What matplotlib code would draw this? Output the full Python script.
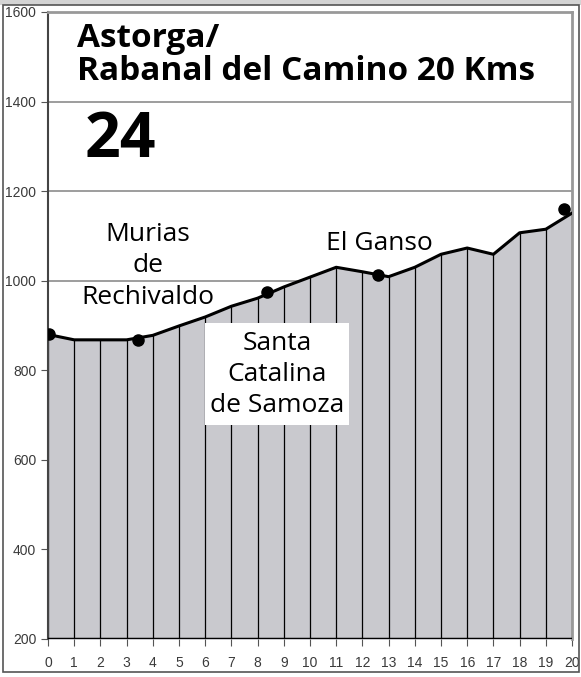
import numpy as np
import matplotlib.pyplot as plt
from matplotlib.patches import Rectangle

# perfil de altitud (km, metros)
km = [0, 1, 2, 3, 4, 5, 6, 7, 8, 9, 10, 11, 12, 13, 14, 15, 16, 17, 18, 19, 20]
altitud = [880, 868, 868, 868, 878, 899, 919, 943, 961, 986, 1008, 1030, 1020, 1009,
           1030, 1059, 1073, 1059, 1107, 1115, 1151]

# pueblos marcados
pueblos_km = [0.05, 3.45, 8.35, 12.6, 19.7]
pueblos_alt = [880, 868, 975, 1012, 1160]

y_ticks = [200, 400, 600, 800, 1000, 1200, 1400, 1600]

fig = plt.figure(figsize=(5.81, 6.77), dpi=100)
ax = fig.add_axes([48 / 581, 38 / 677, 524 / 581, 627 / 677])

ax.set_xlim(0, 20)
ax.set_ylim(200, 1600)

# rejilla horizontal
for y in y_ticks:
    ax.axhline(y, color='#8c8c8c', lw=1.2, zorder=0)

ax.fill_between(km, altitud, 200, color='#c9c9ce', zorder=1)
ax.vlines(km, 200, altitud, color='black', lw=0.9, zorder=2)
ax.plot(km, altitud, color='black', lw=2.2, zorder=3, solid_capstyle='round')
ax.plot(pueblos_km, pueblos_alt, 'o', color='black', ms=8, zorder=4)
ax.axhline(200, color='black', lw=2.5, zorder=5)

# caja blanca para Santa Catalina
ax.add_patch(Rectangle((6.0, 678), 5.5, 227, facecolor='white', edgecolor='none', zorder=6))

fuente = 'Open Sans'
ax.text(1.1, 1578, 'Astorga/\nRabanal del Camino 20 Kms', family=fuente,
        fontweight='bold', fontsize=24, va='top', ha='left', linespacing=1.0, zorder=7)
ax.text(1.4, 1312, '24', family=fuente, fontweight='bold', fontsize=45,
        va='center', ha='left', zorder=7)
ax.text(3.8, 1033, 'Murias\nde\nRechivaldo', family=fuente, fontsize=19,
        ha='center', va='center', linespacing=1.32, zorder=7)
ax.text(12.65, 1084, 'El Ganso', family=fuente, fontsize=19,
        ha='center', va='center', zorder=7)
ax.text(8.75, 790, 'Santa\nCatalina\nde Samoza', family=fuente, fontsize=19,
        ha='center', va='center', linespacing=1.32, zorder=7)

ax.set_xticks(km)
ax.set_yticks(y_ticks)
ax.tick_params(axis='both', labelsize=10, labelcolor='#3a3a3a', color='#555555', length=5, direction='out')
ax.tick_params(axis='x', pad=7)
for lbl in ax.get_xticklabels() + ax.get_yticklabels():
    lbl.set_family('Liberation Sans')

for lado in ['top', 'right']:
    ax.spines[lado].set_color('#999999')
    ax.spines[lado].set_linewidth(2)
ax.spines['left'].set_color('#444444')
ax.spines['left'].set_linewidth(1.5)
ax.spines['bottom'].set_visible(False)

# marco exterior y barra superior
fig.patches.append(Rectangle((0, 672 / 677), 1, 5 / 677, transform=fig.transFigure,
                             facecolor='#d4d4d4', edgecolor='none'))
fig.patches.append(Rectangle((3 / 581, 5 / 677), 576 / 581, 667 / 677, transform=fig.transFigure,
                             facecolor='none', edgecolor='#555555', lw=1.2))

fig.savefig('out.png', dpi=100)
